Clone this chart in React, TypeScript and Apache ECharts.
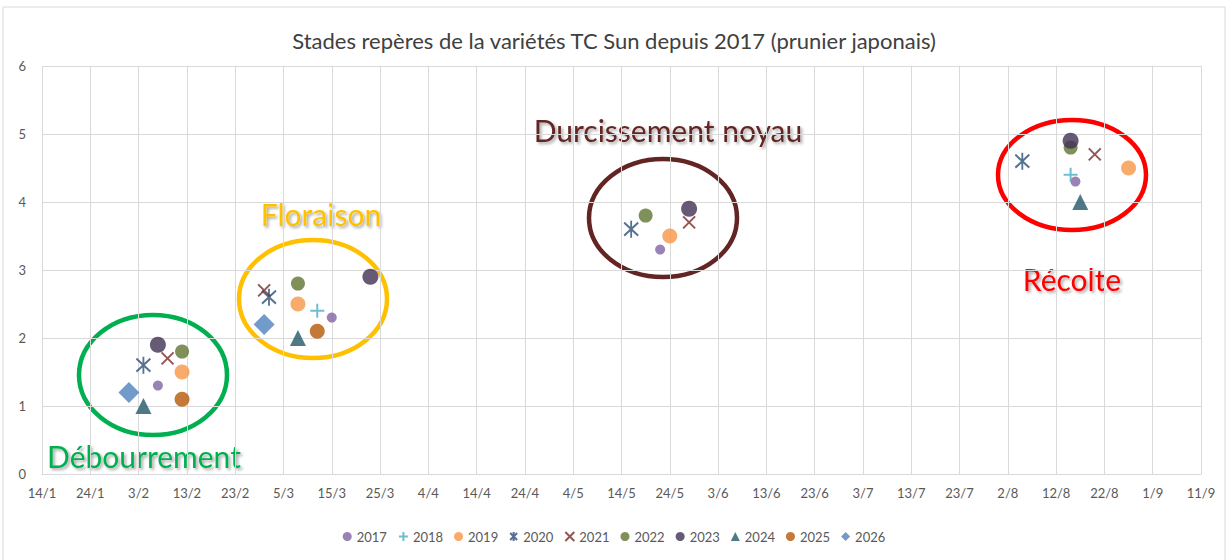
import React, { useEffect, useRef } from "react";
import * as echarts from "echarts";

// ---- data ----
const categories = ["2017", "2018", "2019", "2020", "2021", "2022", "2023", "2024", "2025", "2026"];
const d2017: [string, number][] = [["7/2", 1.3], ["15/3", 2.3], ["22/5", 3.3], ["16/8", 4.3]];
const d2018: [string, number][] = [["12/3", 2.4], ["15/8", 4.4]];
const d2019: [string, number][] = [["12/2", 1.5], ["8/3", 2.5], ["24/5", 3.5], ["27/8", 4.5]];
const d2020: [string, number][] = [["4/2", 1.6], ["2/3", 2.6], ["16/5", 3.6], ["5/8", 4.6]];
const d2021: [string, number][] = [["9/2", 1.7], ["1/3", 2.7], ["28/5", 3.7], ["20/8", 4.7]];
const d2022: [string, number][] = [["12/2", 1.8], ["8/3", 2.8], ["19/5", 3.8], ["15/8", 4.8]];
const d2023: [string, number][] = [["7/2", 1.9], ["23/3", 2.9], ["28/5", 3.9], ["15/8", 4.9]];
const d2024: [string, number][] = [["4/2", 1.0], ["8/3", 2.0], ["17/8", 4.0]];
const d2025: [string, number][] = [["12/2", 1.1], ["12/3", 2.1]];
const d2026: [string, number][] = [["1/2", 1.2], ["1/3", 2.2]];
const seriesData = [d2017, d2018, d2019, d2020, d2021, d2022, d2023, d2024, d2025, d2026];

const axisStart = "14/1";
const axisEnd = "11/9";
const yTicks = [0, 1, 2, 3, 4, 5, 6];

// ---- helpers ----
const monthLen = [31, 28, 31, 30, 31, 30, 31, 31, 30, 31, 30, 31];
function toDoy(s: string): number {
  const [d, m] = s.split("/").map(Number);
  let n = d;
  for (let i = 0; i < m - 1; i++) n += monthLen[i];
  return n;
}
function fromDoy(n: number): string {
  let m = 0;
  while (m < 12 && n > monthLen[m]) {
    n -= monthLen[m];
    m++;
  }
  return `${n}/${m + 1}`;
}
const START = toDoy(axisStart);
const END = toDoy(axisEnd);

const colors = ["#8064A2", "#4BACC6", "#F79646", "#2C4D75", "#772C2A", "#5F7530", "#403152", "#215968", "#B65708", "#4F81BD"];
const symbols = [
  "circle",
  "path://M0,5L10,5M5,0L5,10",
  "circle",
  "path://M0,0L10,10M0,10L10,0M5,-1.5L5,11.5",
  "path://M0,0L10,10M0,10L10,0",
  "circle",
  "circle",
  "triangle",
  "circle",
  "diamond",
];
const sizes: any[] = [10, 14, 15, [14, 17], 12, 14, 16, 16, 15, 21];
const stroked = [false, true, false, true, true, false, false, false, false, false];

const FONT = "Lato, 'Noto Sans', sans-serif";

export default function App() {
  const ref = useRef<HTMLDivElement>(null);
  useEffect(() => {
    document.body.style.margin = "0";
    const chart = echarts.init(ref.current!, null, { renderer: "svg" });
    const series = categories.map((name, i) => ({
      name,
      type: "scatter",
      symbol: symbols[i],
      symbolSize: sizes[i],
      data: seriesData[i].map(([d, v]) => [toDoy(d) - START, v]),
      itemStyle: stroked[i]
        ? { color: colors[i], borderColor: colors[i], borderWidth: 2 }
        : { color: colors[i] },
    }));
    const shadow = { textShadowColor: "rgba(0,0,0,0.35)", textShadowBlur: 3, textShadowOffsetX: 2, textShadowOffsetY: 2 };
    chart.setOption({
      animation: false,
      backgroundColor: "#ffffff",
      textStyle: { fontFamily: FONT },
      title: {
        text: "Stades repères de la variétés TC Sun depuis 2017 (prunier japonais)",
        left: "center",
        top: 24,
        textStyle: { fontFamily: FONT, fontSize: 22, fontWeight: "normal", color: "#404040" },
      },
      grid: { left: 42, right: 27, top: 66, bottom: 86, containLabel: false },
      xAxis: {
        type: "value",
        min: 0,
        max: END - START,
        interval: 10,
        axisLine: { show: true, lineStyle: { color: "#d9d9d9" } },
        axisTick: { show: false },
        splitLine: { show: true, lineStyle: { color: "#d9d9d9" } },
        axisLabel: {
          formatter: (v: number) => fromDoy(v + START),
          color: "#595959",
          fontSize: 13,
          margin: 12,
          fontFamily: FONT,
          showMaxLabel: true,
          showMinLabel: true,
        },
      },
      yAxis: {
        type: "value",
        min: yTicks[0],
        max: yTicks[yTicks.length - 1],
        interval: 1,
        axisLine: { show: false },
        axisTick: { show: false },
        splitLine: { show: true, lineStyle: { color: "#d9d9d9" } },
        axisLabel: { color: "#595959", fontSize: 13, margin: 16, fontFamily: FONT },
      },
      legend: {
        data: categories,
        bottom: 12,
        left: "center",
        itemWidth: 9,
        itemHeight: 9,
        itemGap: 11,
        textStyle: { color: "#595959", fontSize: 13, fontFamily: FONT },
      },
      series,
      graphic: [
        { type: "rect", silent: true, shape: { x: 3, y: 7, width: 1222, height: 560 }, style: { fill: "none", stroke: "#d9d9d9", lineWidth: 1 } },
        { type: "ellipse", silent: true, shape: { cx: 153, cy: 375, rx: 74, ry: 60 }, style: { fill: "none", stroke: "#00B050", lineWidth: 4.5 } },
        { type: "ellipse", silent: true, shape: { cx: 313, cy: 299, rx: 74, ry: 59 }, style: { fill: "none", stroke: "#FFC000", lineWidth: 4.5 } },
        { type: "ellipse", silent: true, shape: { cx: 663, cy: 218, rx: 74, ry: 59 }, style: { fill: "none", stroke: "#632523", lineWidth: 4.5 } },
        { type: "ellipse", silent: true, shape: { cx: 1072, cy: 175, rx: 74, ry: 55 }, style: { fill: "none", stroke: "#FF0000", lineWidth: 4.5 } },
        { type: "text", silent: true, style: { text: "Débourrement", x: 144, y: 456, align: "center", verticalAlign: "middle", fill: "#00B050", font: `30px ${FONT}`, ...shadow } },
        { type: "text", silent: true, style: { text: "Floraison", x: 321, y: 214, align: "center", verticalAlign: "middle", fill: "#FFC000", font: `30px ${FONT}`, ...shadow } },
        { type: "text", silent: true, style: { text: "Durcissement noyau", x: 668, y: 130, align: "center", verticalAlign: "middle", fill: "#632523", font: `30px ${FONT}`, ...shadow } },
        { type: "text", silent: true, style: { text: "Récolte", x: 1072, y: 279, align: "center", verticalAlign: "middle", fill: "#FF0000", font: `30px ${FONT}`, ...shadow } },
      ],
    });
    return () => chart.dispose();
  }, []);
  return <div ref={ref} style={{ width: 1228, height: 560 }} />;
}
